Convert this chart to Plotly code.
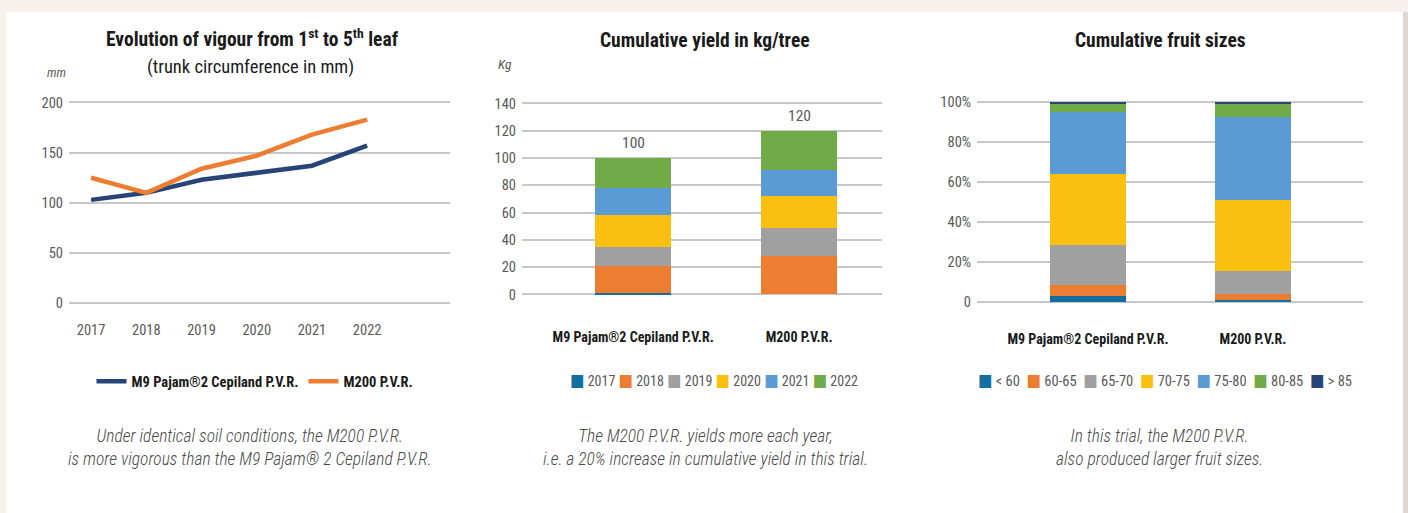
import plotly.graph_objects as go

W, H = 1408, 513
FONT = "Roboto Condensed, Noto Sans Condensed, Liberation Sans Narrow, DejaVu Sans Condensed, sans-serif"
GREY = "#595959"
GRID = "#c8c8c8"

# vigour chart (trunk circumference, mm)
years = [2017, 2018, 2019, 2020, 2021, 2022]
m9_girth = [103, 110, 123, 130, 137, 157]
m200_girth = [125, 110, 134, 147, 168, 183]

rootstocks = ["M9 Pajam®2 Cepiland P.V.R.", "M200 P.V.R."]

# cumulative yield kg/tree, one list per year: [M9, M200]
yield_years = ["2017", "2018", "2019", "2020", "2021", "2022"]
yield_2017 = [1, 0]
yield_2018 = [20, 28]
yield_2019 = [14, 21]
yield_2020 = [23, 23]
yield_2021 = [20, 19]
yield_2022 = [22, 29]
year_colors = ["#13709e", "#ed7d31", "#a0a0a0", "#fbbf10", "#5a9bd5", "#70ab47"]

# fruit size classes (% of fruit), [M9, M200]
size_classes = ["< 60", "60-65", "65-70", "70-75", "75-80", "80-85", "> 85"]
size_lt60 = [3, 1]
size_60_65 = [5.7, 3.2]
size_65_70 = [20, 11.3]
size_70_75 = [35, 35.5]
size_75_80 = [31, 41.4]
size_80_85 = [4.8, 7.1]
size_gt85 = [0.5, 0.5]
size_colors = ["#13709e", "#ed7d31", "#a0a0a0", "#fbbf10", "#5a9bd5", "#70ab47", "#264478"]


def px(x):
    return x / W


def py(y):
    return 1 - y / H


def y_axis_box(top_px, bot_px, lo, hi, pad):
    # domain + range so that lo sits at bot_px and hi at top_px (padded so end gridlines show)
    k = (bot_px - top_px) / (hi - lo)
    return [py(bot_px + pad * k), py(top_px - pad * k)], [lo - pad, hi + pad]


fig = go.Figure()

# ---- left: line chart
fig.add_trace(go.Scatter(x=years, y=m9_girth, mode="lines", name=rootstocks[0],
                         line=dict(color="#264478", width=4.5), xaxis="x", yaxis="y"))
fig.add_trace(go.Scatter(x=years, y=m200_girth, mode="lines", name=rootstocks[1],
                         line=dict(color="#ed7d31", width=4.5), xaxis="x", yaxis="y"))

# ---- middle: stacked yield
yield_series = [yield_2017, yield_2018, yield_2019, yield_2020, yield_2021, yield_2022]
for name, vals, col in zip(yield_years, yield_series, year_colors):
    fig.add_trace(go.Bar(x=rootstocks, y=vals, name=name, marker=dict(color=col, line=dict(width=0)),
                         xaxis="x2", yaxis="y2", showlegend=False))
totals = [sum(v) for v in zip(*yield_series)]
for cat, tot in zip(rootstocks, totals):
    fig.add_annotation(x=cat, y=tot, xref="x2", yref="y2", text=f"{tot:.0f}", showarrow=False,
                       yanchor="middle", yshift=15, font=dict(size=15.5, color=GREY, family=FONT))

# ---- right: stacked fruit sizes
size_series = [size_lt60, size_60_65, size_65_70, size_70_75, size_75_80, size_80_85, size_gt85]
for name, vals, col in zip(size_classes, size_series, size_colors):
    fig.add_trace(go.Bar(x=rootstocks, y=vals, name=name, marker=dict(color=col, line=dict(width=0)),
                         xaxis="x3", yaxis="y3", showlegend=False))

tickfont = dict(size=14.5, color=GREY, family=FONT)
catfont = dict(size=14, color="#1a1a1a", family=FONT, weight="bold")

dom1, rng1 = y_axis_box(99, 305, 0, 200, 2)
dom2, rng2 = y_axis_box(100, 296, 0, 140, 1.5)
dom3, rng3 = y_axis_box(98, 304, 0, 100, 1)

yaxis_common = dict(showgrid=True, gridcolor=GRID, gridwidth=1.5, zeroline=True, zerolinecolor=GRID,
                    zerolinewidth=1.5, showline=False, ticks="", tickfont=tickfont, ticklabelstandoff=5)

fig.update_layout(
    width=W, height=H,
    margin=dict(l=0, r=0, t=0, b=0),
    paper_bgcolor="#f6f1ec",
    plot_bgcolor="rgba(0,0,0,0)",
    font=dict(family=FONT, color=GREY),
    barmode="stack",
    bargap=0.54,
    xaxis=dict(domain=[px(69), px(450)], anchor="y", range=[2016.6, 2023.5], tickvals=years,
               showgrid=False, zeroline=False, showline=False, ticks="", tickfont=tickfont,
               ticklabelstandoff=14),
    yaxis=dict(domain=dom1, anchor="x", range=rng1, tickvals=[0, 50, 100, 150, 200], **yaxis_common),
    xaxis2=dict(domain=[px(522), px(882)], anchor="y2", type="category", range=[-0.67, 1.5],
                showgrid=False, showline=False, ticks="", tickfont=catfont, ticklabelstandoff=30),
    yaxis2=dict(domain=dom2, anchor="x2", range=rng2, tickvals=list(range(0, 141, 20)), **yaxis_common),
    xaxis3=dict(domain=[px(977), px(1363)], anchor="y3", type="category", range=[-0.673, 1.667],
                showgrid=False, showline=False, ticks="", tickfont=catfont, ticklabelstandoff=25),
    yaxis3=dict(domain=dom3, anchor="x3", range=rng3, tickvals=[0, 20, 40, 60, 80, 100],
                ticktext=["0", "20%", "40%", "60%", "80%", "100%"], **yaxis_common),
    legend=dict(orientation="h", traceorder="normal", x=px(255), xanchor="center", y=py(385),
                yanchor="middle", bgcolor="rgba(0,0,0,0)",
                font=dict(size=14.5, color="#1a1a1a", family=FONT, weight="bold")),
)

# white card behind the charts
fig.add_shape(type="rect", xref="paper", yref="paper", x0=px(6), x1=px(1403), y0=-0.05, y1=py(6),
              fillcolor="white", line=dict(width=0), layer="below")
fig.add_shape(type="rect", xref="paper", yref="paper", x0=px(1403), x1=1, y0=-0.05, y1=py(6),
              fillcolor="#dcd7d3", line=dict(width=0), layer="below")


def note(text, x, y, size, color="#1a1a1a", **font):
    fig.add_annotation(text=text, x=px(x), y=py(y), xref="paper", yref="paper", showarrow=False,
                       xanchor="center", yanchor="middle",
                       font=dict(size=size, color=color, family=FONT, **font))


note("Evolution of vigour from 1<sup>st</sup> to 5<sup>th</sup> leaf", 252, 33, 19.5, weight="bold")
note("(trunk circumference in mm)", 251, 63, 18.5)
note("Cumulative yield in kg/tree", 705, 35, 19.5, weight="bold")
note("Cumulative fruit sizes", 1160, 35, 19.5, weight="bold")
note("mm", 56, 68, 13, color=GREY, style="italic")
note("Kg", 505, 59, 13.5, color=GREY, style="italic")


def swatches(labels, colors, gap):
    items = [f"<span style='color:{c};font-size:17px'>■</span>\u00a0{lab}" for lab, c in zip(labels, colors)]
    return gap.join(items)


note(swatches(yield_years, year_colors, "\u00a0"), 714, 384, 14, color=GREY)
note(swatches(size_classes, size_colors, "\u00a0\u00a0"), 1165, 384, 14.5, color=GREY)

note("Under identical soil conditions, the M200 P.V.R.<br>is more vigorous than the M9 Pajam® 2 Cepiland P.V.R.",
     250, 453, 17.5, color="#4a4a4a", style="italic", weight=300)
note("The M200 P.V.R. yields more each year,<br>i.e. a 20% increase in cumulative yield in this trial.",
     705, 453, 17.5, color="#4a4a4a", style="italic", weight=300)
note("In this trial, the M200 P.V.R.<br>also produced larger fruit sizes.",
     1159, 453, 17.5, color="#4a4a4a", style="italic", weight=300)

# drop the browser's default 8px body margin so the figure sits at the page origin
fig.write_html("out.html", config={"displayModeBar": False},
               post_script="document.body.style.margin='0';")
